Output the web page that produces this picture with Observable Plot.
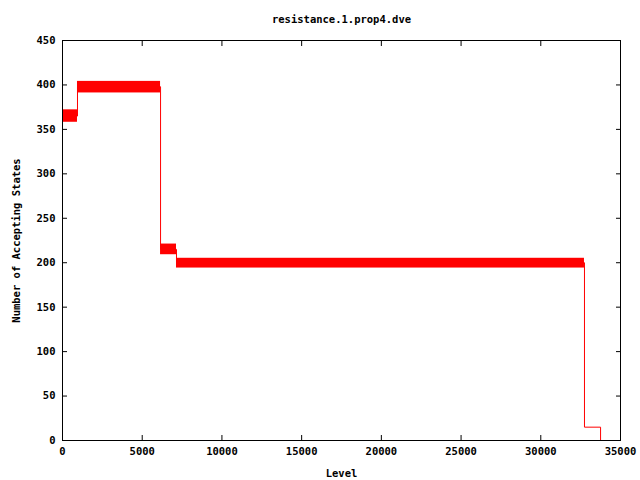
<!DOCTYPE html>
<html><head><meta charset="utf-8">
<script src="https://cdn.jsdelivr.net/npm/d3@7"></script>
<script src="https://cdn.jsdelivr.net/npm/@observablehq/plot@0.6"></script>
<style>body{margin:0;background:#fff}</style>
</head><body><div id="c"></div>
<script>
const title = "resistance.1.prop4.dve";
const xLabel = "Level";
const yLabel = "Number of Accepting States";
// band segments: level start, level end, low and high of oscillating value
const segStart = [0, 940, 6150, 7150];
const segEnd   = [940, 6150, 7150, 32740];
const segLow   = [358, 391, 209, 194];
const segHigh  = [372, 404, 221, 205];
// step outline points
const stepLevel = [0, 0, 940, 6150, 7150, 32740, 33750, 33750];
const stepValue = [337, 365, 398, 215, 200, 15, 0, 0];
const xTicks = [0, 5000, 10000, 15000, 20000, 25000, 30000, 35000];
const yTicks = [0, 50, 100, 150, 200, 250, 300, 350, 400, 450];

const bands = segStart.map((s, i) => ({x1: s, x2: segEnd[i], y1: segLow[i], y2: segHigh[i]}));
const steps = stepLevel.map((x, i) => ({x, y: stepValue[i]}));

const font = "bold 10.5px 'DejaVu Sans Mono', monospace";
const chart = Plot.plot({
  width: 640, height: 480,
  marginLeft: 62, marginRight: 20, marginTop: 40, marginBottom: 40,
  style: {font, background: "white", color: "black"},
  x: {domain: [0, 35000]},
  y: {domain: [0, 450]},
  marks: [
    Plot.rect(bands, {x1: "x1", x2: "x2", y1: "y1", y2: "y2", fill: "#ff0000"}),
    Plot.line(steps, {x: "x", y: "y", curve: "step-after", stroke: "#ff0000", strokeWidth: 1}),
    Plot.axisX({ticks: xTicks, tickSize: -5, tickPadding: 12, tickFormat: d => String(d), label: xLabel, labelAnchor: "center", labelArrow: "none", labelOffset: 36}),
    Plot.axisX({ticks: xTicks, anchor: "top", tickSize: -5, text: null, label: null}),
    Plot.axisY({ticks: yTicks, tickSize: -5, tickPadding: 12, tickFormat: d => String(d), label: yLabel, labelAnchor: "center", labelArrow: "none", labelOffset: 50}),
    Plot.axisY({ticks: yTicks, anchor: "right", tickSize: -5, text: null, label: null}),
    Plot.frame({stroke: "black"}),
    Plot.text([title], {frameAnchor: "top", dy: -25, fontWeight: "bold", fontSize: 10.5})
  ]
});
document.getElementById("c").appendChild(chart);
</script></body></html>
